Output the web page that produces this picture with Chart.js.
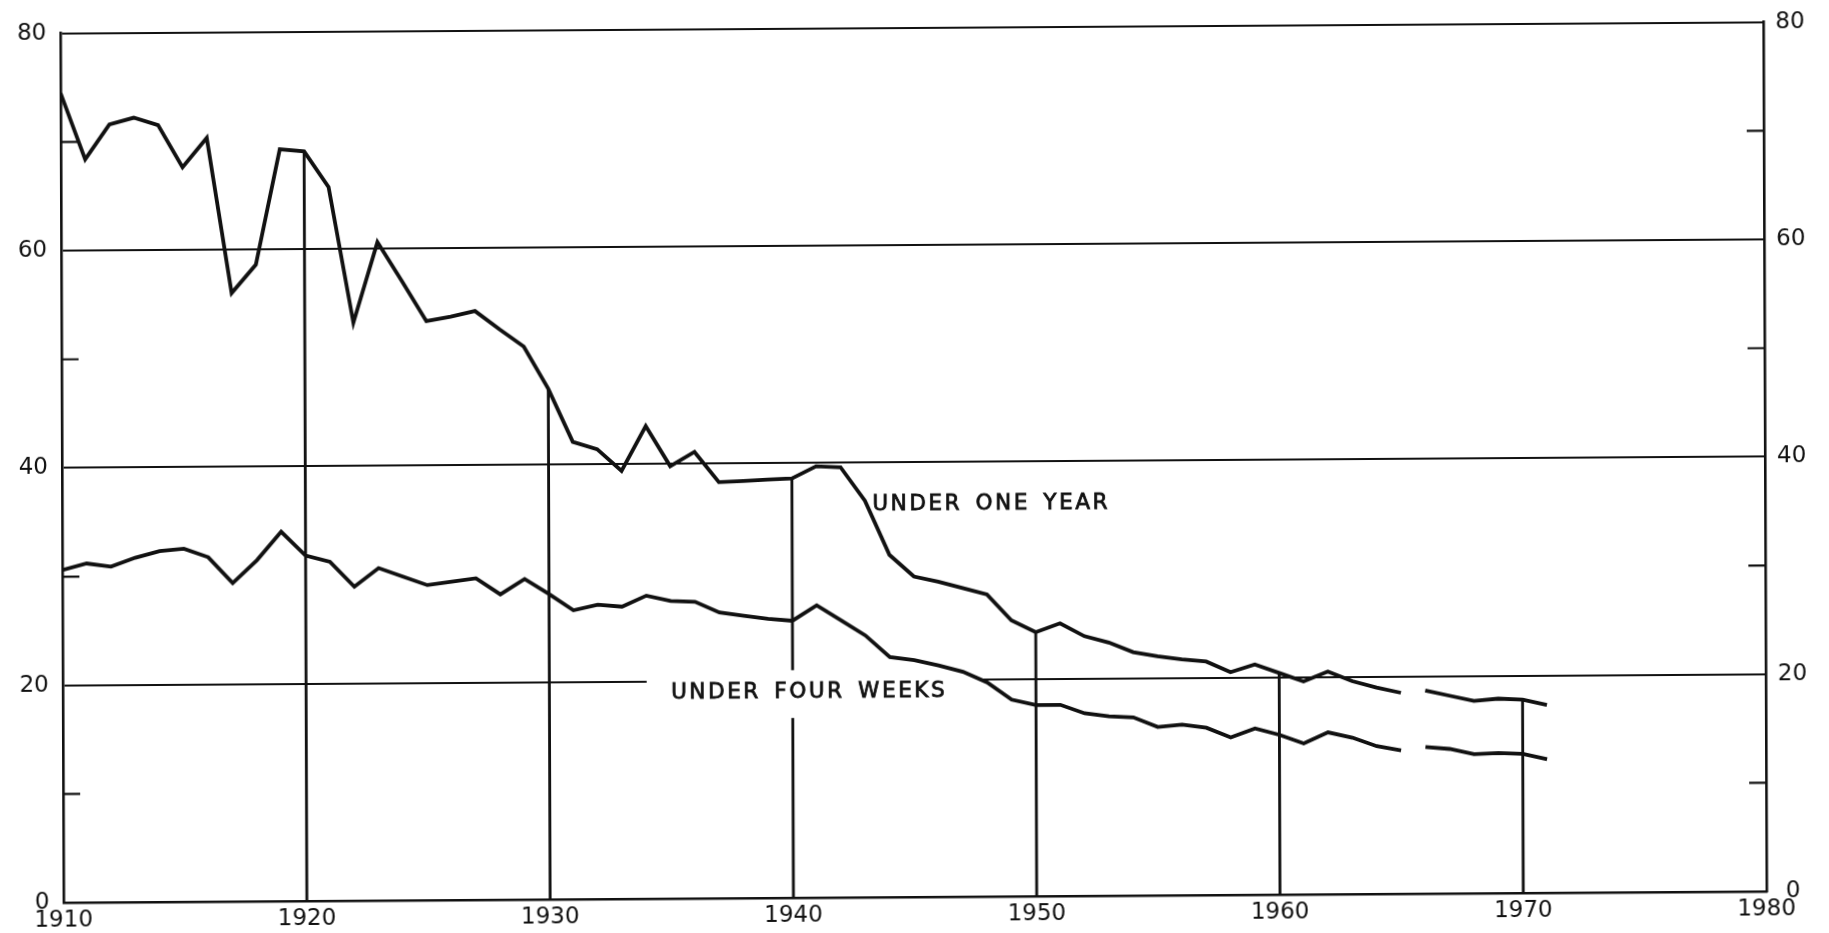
<!DOCTYPE html>
<html>
<head>
<meta charset="utf-8">
<script src="https://cdn.jsdelivr.net/npm/chart.js@4.4.1/dist/chart.umd.min.js"></script>
<style>
  html, body { margin: 0; padding: 0; background: #fff; }
  /* the original is a slightly skewed scan */
  #wrap { width: 1829px; height: 933px; transform: matrix(1, -0.0066, 0.0037, 1, 0, 0); }
</style>
</head>
<body>
<div id="wrap"><canvas id="chart" width="1829" height="933"></canvas></div>
<script>
// values (per 1,000 live births)
const years = [
  1910, 1911, 1912, 1913, 1914, 1915, 1916, 1917, 1918, 1919,
  1920, 1921, 1922, 1923, 1924, 1925, 1926, 1927, 1928, 1929,
  1930, 1931, 1932, 1933, 1934, 1935, 1936, 1937, 1938, 1939,
  1940, 1941, 1942, 1943, 1944, 1945, 1946, 1947, 1948, 1949,
  1950, 1951, 1952, 1953, 1954, 1955, 1956, 1957, 1958, 1959,
  1960, 1961, 1962, 1963, 1964, 1965, 1966, 1967, 1968, 1969,
  1970, 1971
];

const underOneYear = [
  74.5, 68.4, 71.6, 72.2, 71.5, 67.6, 70.3, 56.0, 58.6, 69.2,
  69.0, 65.7, 53.2, 60.6, 57.0, 53.3, 53.7, 54.2, 52.5, 50.9,
  47.0, 42.1, 41.4, 39.4, 43.5, 39.8, 41.1, 38.3, 38.4, 38.5,
  38.6, 39.7, 39.6, 36.5, 31.5, 29.5, 29.0, 28.4, 27.8, 25.4,
  24.3, 25.1, 23.9, 23.3, 22.4, 22.0, 21.7, 21.5, 20.5, 21.2,
  20.4, 19.6, 20.5, 19.6, 19.0, 18.5, 18.7, 18.2, 17.7, 17.9,
  17.8, 17.3
];

const underFourWeeks = [
  30.6, 31.2, 30.9, 31.7, 32.3, 32.5, 31.7, 29.3, 31.4, 34.0,
  31.8, 31.2, 28.9, 30.6, 29.8, 29.0, 29.3, 29.6, 28.1, 29.5,
  28.1, 26.6, 27.1, 26.9, 27.9, 27.4, 27.3, 26.3, 26.0, 25.7,
  25.5, 26.9, 25.5, 24.1, 22.1, 21.8, 21.3, 20.7, 19.7, 18.1,
  17.6, 17.6, 16.8, 16.5, 16.4, 15.5, 15.7, 15.4, 14.5, 15.3,
  14.7, 13.9, 14.9, 14.4, 13.6, 13.2, 13.5, 13.3, 12.8, 12.9,
  12.8, 12.3
];

// decades with a drop line from the axis up to the upper curve
const dropYears = [1920, 1930, 1940, 1950, 1960, 1970];
// both series break between these two years
const gapFrom = 1965;
const minorTicks = [10, 30, 50, 70];

const INK = '#111';
const FONT = '"DejaVu Sans", sans-serif';

const toPoints = vals => years.map((x, i) => ({ x, y: vals[i] }));
const gapSegment = {
  borderColor: c => (c.p0.parsed.x === gapFrom ? 'rgba(0,0,0,0)' : undefined)
};

// short inward ticks on both side axes
const minorTickPlugin = {
  id: 'minorTicks',
  beforeDatasetsDraw(chart) {
    const { ctx, chartArea: { left, right }, scales: { y } } = chart;
    ctx.save();
    ctx.strokeStyle = INK;
    ctx.lineWidth = 2.2;
    minorTicks.forEach(v => {
      const py = y.getPixelForValue(v);
      ctx.beginPath();
      ctx.moveTo(left, py); ctx.lineTo(left + 17, py);
      ctx.moveTo(right, py); ctx.lineTo(right - 17, py);
      ctx.stroke();
    });
    ctx.restore();
  }
};

// curve names, drawn after the drop lines but under the curves
const curveLabelPlugin = {
  id: 'curveLabels',
  afterDatasetDraw(chart, args, opts) {
    if (args.index !== 0) return;
    const { ctx, scales: { x, y } } = chart;
    ctx.save();
    opts.items.forEach(item => {
      if (item.box) {
        const bx0 = x.getPixelForValue(item.box[0]);
        const bx1 = x.getPixelForValue(item.box[1]);
        const by0 = y.getPixelForValue(item.box[2]);
        const by1 = y.getPixelForValue(item.box[3]);
        ctx.fillStyle = '#fff';
        ctx.fillRect(bx0, by1, bx1 - bx0, by0 - by1);
      }
      const tx = x.getPixelForValue(item.x);
      const ty = y.getPixelForValue(item.y);
      ctx.fillStyle = INK;
      ctx.strokeStyle = INK;
      ctx.lineWidth = 0.8;
      ctx.font = '21.5px ' + FONT;
      ctx.letterSpacing = '2.6px';
      ctx.wordSpacing = '4px';
      ctx.textAlign = 'left';
      ctx.textBaseline = 'middle';
      ctx.fillText(item.text, tx, ty);
      ctx.strokeText(item.text, tx, ty);
    });
    ctx.restore();
  }
};

const tickFont = { family: FONT, size: 23 };

new Chart(document.getElementById('chart'), {
  type: 'line',
  data: {
    datasets: [
      {
        type: 'bar',
        label: 'drop lines',
        data: dropYears.map(yr => ({ x: yr, y: underOneYear[years.indexOf(yr)] })),
        backgroundColor: INK,
        barThickness: 2.2,
        grouped: false,
        order: 3
      },
      {
        label: 'Under one year',
        data: toPoints(underOneYear),
        borderColor: INK,
        borderWidth: 3.8,
        pointRadius: 0,
        tension: 0,
        segment: gapSegment,
        order: 1
      },
      {
        label: 'Under four weeks',
        data: toPoints(underFourWeeks),
        borderColor: INK,
        borderWidth: 3.8,
        pointRadius: 0,
        tension: 0,
        segment: gapSegment,
        order: 2
      }
    ]
  },
  options: {
    responsive: false,
    animation: false,
    layout: { padding: { top: 27 } },
    plugins: {
      legend: { display: false },
      tooltip: { enabled: false },
      curveLabels: {
        items: [
          { text: 'UNDER ONE YEAR', x: 1943.3, y: 36.1 },
          { text: 'UNDER FOUR WEEKS', x: 1935.0, y: 18.9, box: [1934.0, 1947.7, 16.55, 20.95] }
        ]
      }
    },
    scales: {
      x: {
        type: 'linear',
        min: 1910,
        max: 1980,
        offset: false,
        ticks: {
          stepSize: 10,
          padding: 4,
          color: INK,
          font: tickFont,
          maxRotation: 0,
          callback: v => String(v)
        },
        grid: { drawOnChartArea: false, drawTicks: false },
        border: { color: INK, width: 2.6 },
        afterFit: s => { s.height = 36; }
      },
      y: {
        position: 'left',
        min: 0,
        max: 80,
        ticks: { stepSize: 20, padding: 14, color: INK, font: tickFont },
        grid: { color: INK, lineWidth: 2, drawTicks: false },
        border: { color: INK, width: 2.6 },
        afterFit: s => { s.width = 62; }
      },
      y2: {
        position: 'right',
        min: 0,
        max: 80,
        ticks: { stepSize: 20, padding: 12, crossAlign: 'center', color: INK, font: tickFont },
        grid: { drawOnChartArea: false, drawTicks: false },
        border: { color: INK, width: 2.6 },
        afterFit: s => { s.width = 64; }
      }
    }
  },
  plugins: [minorTickPlugin, curveLabelPlugin]
});
</script>
</body>
</html>
